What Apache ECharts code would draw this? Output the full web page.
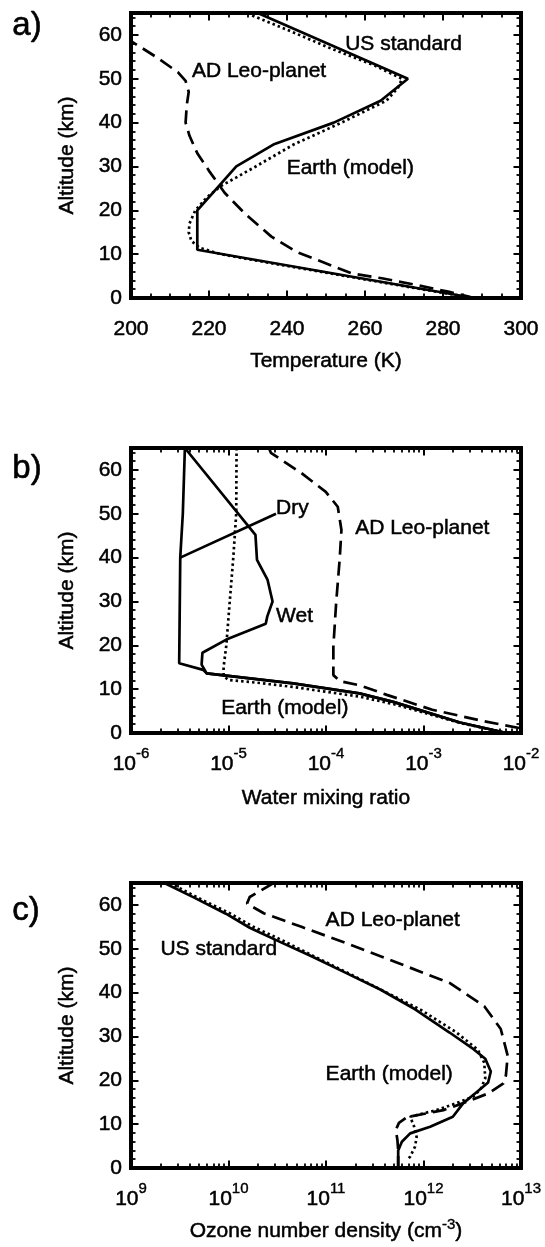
<!DOCTYPE html>
<html><head><meta charset="utf-8">
<script src="https://cdn.jsdelivr.net/npm/echarts@6/dist/echarts.min.js"></script>
<style>html,body{margin:0;padding:0;background:#fff}#c{width:545px;height:1247px}</style>
</head><body><div id="c"></div>
<script>
// ---------- Panel a: temperature (K) vs altitude (km) ----------
const aUSStdTemp = [288, 217, 217, 227, 236.5, 252, 264, 271, 232.5];
const aUSStdAlt  = [0, 11, 20, 30, 35, 40, 45, 50, 65];
const aEarthTemp = [288, 274.5, 261.5, 248.5, 235.5, 223, 217.5, 215.5, 214.8, 215, 216.5, 219.5, 223, 232, 241.7, 254, 265.5, 268.5, 269.5, 262.5, 251, 240.5, 229.5];
const aEarthAlt  = [0, 2, 4, 6, 8, 10, 11.5, 13, 15, 17, 20, 23, 25.5, 30, 35, 40, 45, 48, 50, 53, 57, 61, 65];
const aADLeoTemp = [288, 281.6, 273, 264.3, 256.6, 248.8, 242.5, 236, 229.5, 224, 220, 217, 215, 214, 214.3, 214.8, 214, 212, 206.4, 200, 196];
const aADLeoAlt  = [0, 1.4, 3, 4.5, 5.6, 8.3, 10.5, 14, 19, 24, 29, 33, 37, 40, 44, 47, 49.5, 51.5, 55, 58.6, 61];
const aLabelText = ['US standard', 'AD Leo-planet', 'Earth (model)'];
const aLabelX    = [254.9, 215.6, 239.9];
const aLabelAlt  = [57.8, 51.7, 29.7];

// ---------- Panel b: water mixing ratio vs altitude ----------
const bDryX    = [3.57e-6, 3.4e-6, 3.2e-6, 3.15e-6, 3.12e-6, 5.5e-6, 5.97e-6, 4.6e-5, 2.2e-4, 4.9e-4, 2.37e-3, 7.1e-3];
const bDryAlt  = [65, 50, 40, 25, 15.9, 14.4, 13.6, 11.3, 9.05, 7.1, 2.4, 0];
const bWetX    = [3.57e-6, 1.89e-5, 1.96e-5, 2.51e-5, 2.83e-5, 2.5e-5, 2.41e-5, 9.5e-6, 5.4e-6, 5.3e-6, 5.97e-6, 4.6e-5, 2.2e-4, 4.9e-4, 2.37e-3, 7.1e-3];
const bWetAlt  = [65, 45.2, 39.5, 35, 30, 26.6, 24.9, 21.3, 18.3, 15.6, 13.6, 11.3, 9.05, 7.1, 2.4, 0];
const bEarthX  = [1.21e-5, 1.2e-5, 1.12e-5, 1.03e-5, 9.5e-6, 8.9e-6, 8.9e-6, 1.0e-5, 2.1e-5, 4.6e-5, 2.2e-4, 4.9e-4, 2.37e-3, 7.1e-3];
const bEarthAlt= [65, 50, 40, 30, 20, 15, 13, 12.1, 11.4, 10.5, 8.3, 6.6, 2.3, 0];
const bADLeoX  = [2.6e-5, 2.72e-5, 5.65e-5, 9.95e-5, 1.32e-4, 1.44e-4, 1.38e-4, 1.27e-4, 1.19e-4, 1.19e-4, 1.4e-4, 2.2e-4, 3.05e-4, 4.2e-4, 1.23e-3, 4.16e-3, 9.75e-3, 1.3e-2];
const bADLeoAlt= [65, 63.9, 59.2, 55, 51.6, 46.3, 39.5, 29.6, 19.7, 13.2, 11.8, 10.9, 9.8, 8.7, 5.3, 2.7, 1.1, 0];
const bDryPointerX   = [3.2e-6, 3.07e-5];
const bDryPointerAlt = [40, 50];
const bLabelText = ['Dry', 'AD Leo-planet', 'Wet', 'Earth (model)'];
const bLabelX    = [3.07e-5, 1.99e-4, 3.07e-5, 8.4e-6];
const bLabelAlt  = [51.3, 46.8, 26.6, 5.7];

// ---------- Panel c: ozone number density vs altitude ----------
const cUSStdX   = [2.2e9, 4.5e9, 9.4e9, 1.65e10, 3.2e10, 7.1e10, 1.6e11, 3.6e11, 8.2e11, 1.85e12, 3.26e12, 4.3e12, 4.9e12, 4.6e12, 3.6e12, 2.56e12, 2.0e12, 1.17e12, 7.3e11, 6.0e11, 5.5e11, 5.5e11];
const cUSStdAlt = [65, 61.6, 58, 54.8, 51.8, 48.3, 44.5, 40.7, 36.2, 30.9, 27.1, 24.9, 22, 19.5, 17.5, 14.8, 11.7, 9.4, 7.9, 6, 4, 0];
const cEarthX   = [2.5e9, 5.2e9, 1.05e10, 1.8e10, 3.5e10, 8e10, 1.85e11, 4.2e11, 9.5e11, 2.15e12, 3.6e12, 4.2e12, 4.3e12, 3.9e12, 3.25e12, 2.19e12, 1.36e12, 7.3e11, 8.0e11, 8.5e11, 8.2e11, 7.3e11, 6.8e11];
const cEarthAlt = [65, 61.3, 58, 55, 52, 48, 44, 40, 36, 31, 27, 24, 20.5, 18.2, 16.3, 14.8, 13.2, 11.7, 9.5, 7.1, 4.9, 2.6, 1.8];
const cADLeoX   = [2.9e10, 1.65e10, 1.55e10, 2.3e10, 5.6e10, 1.6e11, 5.4e11, 1.85e12, 4.2e12, 6.2e12, 7.3e12, 7.0e12, 6.6e12, 4.6e12, 2.56e12, 1.6e12, 6.8e11, 5.6e11, 5.2e11, 5.4e11, 5.5e11, 5.5e11];
const cADLeoAlt = [65, 61.8, 60.3, 58.1, 55, 51.3, 46.8, 42.2, 36.9, 31.7, 25.6, 21.1, 19.3, 17, 14.8, 13.2, 11.6, 10.3, 8.7, 6.4, 4, 0];
const cLabelText = ['AD Leo-planet', 'US standard', 'Earth (model)'];
const cLabelX    = [9.9e10, 2.0e9, 9.9e10];
const cLabelAlt  = [56.6, 49.8, 21.5];

// ---------- tick values ----------
const altMinorTicks  = [2,4,6,8,12,14,16,18,22,24,26,28,32,34,36,38,42,44,46,48,52,54,56,58,62,64];
const tempMinorTicks = [205,210,215,225,230,235,245,250,255,265,270,275,285,290,295];
const waterDecades = [-6, -5, -4, -3];
const ozoneDecades = [9, 10, 11, 12];
const panelLetters = ['a)', 'b)', 'c)'];

// ---------- styling ----------
const FONT = '"Liberation Sans", Arial, Helvetica, sans-serif';
const FS = 21;
const GRID_TOPS = [13, 448, 883];
const axLine = {show: true, onZero: false, lineStyle: {color: '#000', width: 4, cap: 'square'}};
const majorTick = {show: true, inside: true, length: 7.5, lineStyle: {color: '#000', width: 2}};
const txt = {color: '#000', fontSize: FS, fontFamily: FONT, textBorderColor: '#000', textBorderWidth: 0.5};
const rich = {
  b: {color: '#000', fontSize: FS, fontFamily: FONT, lineHeight: FS, verticalAlign: 'bottom', textBorderColor: '#000', textBorderWidth: 0.5},
  s: {color: '#000', fontSize: 15, fontFamily: FONT, verticalAlign: 'top', padding: [0, 0, 14, 0], textBorderColor: '#000', textBorderWidth: 0.4}
};
function logMinor(decades) {
  const out = [];
  decades.forEach(d => { for (let k = 2; k <= 9; k++) out.push(d + Math.log10(k)); });
  return out;
}
function pairs(xs, ys) { return xs.map((x, i) => [x, ys[i]]); }

const xAxis = [], yAxis = [], series = [];

function addPanel(g, xcfg) {
  const base = {gridIndex: g, splitLine: {show: false}};
  const xMain = xAxis.length;
  xAxis.push(Object.assign({}, base, xcfg.main, {
    position: 'bottom', axisLine: axLine, axisTick: majorTick,
    axisLabel: xcfg.label,
    name: xcfg.name, nameLocation: 'middle', nameGap: xcfg.nameGap, nameTextStyle: xcfg.nameStyle
  }));
  xAxis.push(Object.assign({}, base, xcfg.main, {
    position: 'top', axisLine: axLine, axisTick: majorTick, axisLabel: {show: false}
  }));
  ['bottom', 'top'].forEach(p => xAxis.push(Object.assign({}, base, {
    type: 'value', min: xcfg.minorMin, max: xcfg.minorMax, position: p,
    axisLine: {show: false, onZero: false}, axisLabel: {show: false},
    axisTick: {show: true, inside: true, length: 4.5, customValues: xcfg.minor, lineStyle: {color: '#000', width: 1.8}}
  })));
  const yMain = yAxis.length;
  yAxis.push(Object.assign({}, base, {
    type: 'value', min: 0, max: 65, interval: 10, position: 'left',
    axisLine: axLine, axisTick: majorTick,
    axisLabel: Object.assign({margin: 9, showMaxLabel: false}, txt),
    name: 'Altitude (km)', nameLocation: 'middle', nameGap: 53, nameRotate: 90, nameTextStyle: txt
  }));
  yAxis.push(Object.assign({}, base, {
    type: 'value', min: 0, max: 65, interval: 10, position: 'right',
    axisLine: axLine, axisTick: majorTick, axisLabel: {show: false}
  }));
  ['left', 'right'].forEach(p => yAxis.push(Object.assign({}, base, {
    type: 'value', min: 0, max: 65, position: p,
    axisLine: {show: false, onZero: false}, axisLabel: {show: false},
    axisTick: {show: true, inside: true, length: 4.5, customValues: altMinorTicks, lineStyle: {color: '#000', width: 1.8}}
  })));
  return {xi: xMain, yi: yMain};
}

function addLine(ax, xs, ys, kind) {
  const dash = kind === 'dashed' ? [14, 7] : kind === 'dotted' ? [2.5, 3] : 'solid';
  series.push({
    type: 'line', xAxisIndex: ax.xi, yAxisIndex: ax.yi, data: pairs(xs, ys),
    symbol: 'none', showSymbol: false, silent: true, clip: true,
    lineStyle: {color: '#000', width: 2.7, type: dash}
  });
}
function addLabels(ax, texts, xs, ys) {
  series.push({
    type: 'scatter', xAxisIndex: ax.xi, yAxisIndex: ax.yi, silent: true,
    symbol: 'circle', symbolSize: 0.1, itemStyle: {color: 'transparent'},
    data: texts.map((t, i) => ({value: [xs[i], ys[i]], name: t})),
    label: Object.assign({show: true, position: 'right', distance: 0, opacity: 1, formatter: p => p.name}, txt)
  });
}

const expLabel = v => '{b|10}{s|' + Math.round(Math.log10(v)) + '}';

const axA = addPanel(0, {
  main: {type: 'value', min: 200, max: 300, interval: 20},
  label: Object.assign({margin: 21}, txt),
  name: 'Temperature (K)', nameGap: 53, nameStyle: txt,
  minorMin: 200, minorMax: 300, minor: tempMinorTicks
});
const axB = addPanel(1, {
  main: {type: 'log', logBase: 10, min: 1e-6, max: 1e-2},
  label: {margin: 13, formatter: expLabel, rich: rich},
  name: 'Water mixing ratio', nameGap: 55, nameStyle: txt,
  minorMin: -6, minorMax: -2, minor: logMinor(waterDecades)
});
const axC = addPanel(2, {
  main: {type: 'log', logBase: 10, min: 1e9, max: 1e13},
  label: {margin: 13, formatter: expLabel, rich: rich},
  name: 'Ozone number density (cm{s|-3})', nameGap: 49,
  nameStyle: Object.assign({rich: rich}, txt),
  minorMin: 9, minorMax: 13, minor: logMinor(ozoneDecades)
});

addLine(axA, aUSStdTemp, aUSStdAlt, 'solid');
addLine(axA, aEarthTemp, aEarthAlt, 'dotted');
addLine(axA, aADLeoTemp, aADLeoAlt, 'dashed');
addLabels(axA, aLabelText, aLabelX, aLabelAlt);

addLine(axB, bDryX, bDryAlt, 'solid');
addLine(axB, bWetX, bWetAlt, 'solid');
addLine(axB, bDryPointerX, bDryPointerAlt, 'solid');
addLine(axB, bEarthX, bEarthAlt, 'dotted');
addLine(axB, bADLeoX, bADLeoAlt, 'dashed');
addLabels(axB, bLabelText, bLabelX, bLabelAlt);

addLine(axC, cUSStdX, cUSStdAlt, 'solid');
addLine(axC, cEarthX, cEarthAlt, 'dotted');
addLine(axC, cADLeoX, cADLeoAlt, 'dashed');
addLabels(axC, cLabelText, cLabelX, cLabelAlt);

const chart = echarts.init(document.getElementById('c'), null, {renderer: 'canvas'});
chart.setOption({
  animation: false,
  backgroundColor: '#fff',
  grid: GRID_TOPS.map(t => ({left: 131, width: 390, top: t, height: 285, outerBoundsMode: 'none', containLabel: false})),
  xAxis: xAxis,
  yAxis: yAxis,
  series: series,
  graphic: panelLetters.map((t, i) => ({
    type: 'text', left: 12, top: [9.5, 452.5, 894.5][i],
    style: {text: t, fill: '#000', fontSize: 33, fontFamily: FONT, stroke: '#000', lineWidth: 0.6}
  }))
});
</script></body></html>
